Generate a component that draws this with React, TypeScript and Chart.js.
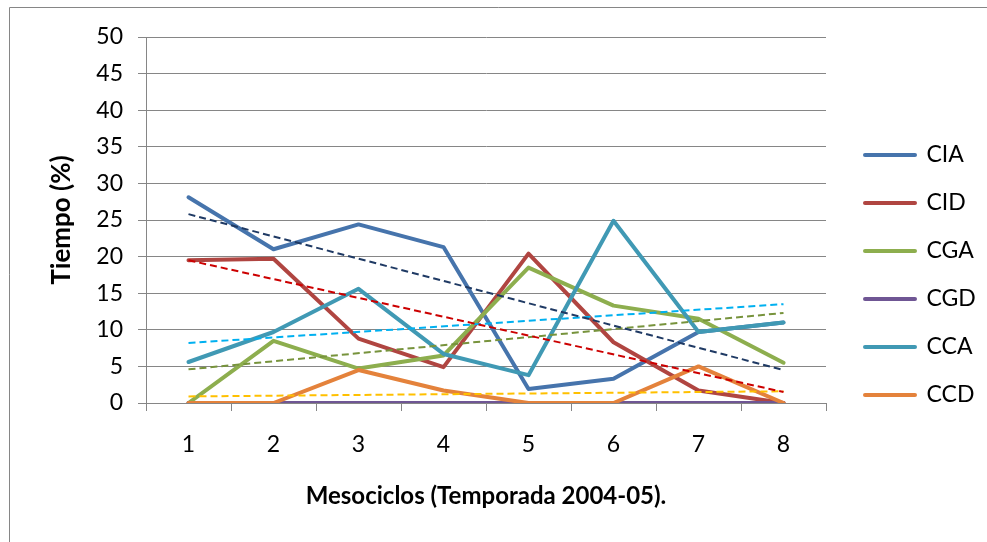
import React, { useEffect, useRef } from 'react';
import { Chart, registerables } from 'chart.js';

Chart.register(...registerables);

// ---- data ----
const categories = ['1', '2', '3', '4', '5', '6', '7', '8'];
const seriesNames = ['CIA', 'CID', 'CGA', 'CGD', 'CCA', 'CCD'];
const CIA = [28.1, 21.0, 24.4, 21.3, 1.9, 3.3, 9.7, 11.0];
const CID = [19.5, 19.7, 8.8, 4.9, 20.4, 8.3, 1.7, 0];
const CGA = [0, 8.5, 4.7, 6.5, 18.5, 13.3, 11.5, 5.5];
const CGD = [0, 0, 0, 0, 0, 0, 0, 0];
const CCA = [5.6, 9.7, 15.6, 6.7, 3.8, 24.9, 9.7, 11.0];
const CCD = [0, 0, 4.5, 1.7, 0, 0, 5.0, 0];

// linear trendlines (value at category 1 and at category 8)
const trendNames = ['CIA', 'CID', 'CGA', 'CCA', 'CCD'];
const trendStart = [25.8, 19.5, 4.6, 8.2, 0.9];
const trendEnd = [4.5, 1.5, 12.3, 13.5, 1.6];

const yMin = 0;
const yMax = 50;
const yStep = 5;

const xTitle = 'Mesociclos (Temporada 2004-05).';
const yTitle = 'Tiempo (%)';

// ---- styles ----
const seriesColors = ['#4674AC', '#B04541', '#8DAE4E', '#6F5694', '#4099B4', '#E4823B'];
const trendColors = ['#1F3A64', '#CC0000', '#77933C', '#00B0F0', '#FFC000'];
const axisGray = '#868686';
const legendFontSize = 23;
const legendPadding = 25;
const legendLineWidth = 50;

export default function App() {
  const ref = useRef<HTMLCanvasElement>(null);

  useEffect(() => {
    if (!ref.current) return;
    const series = [CIA, CID, CGA, CGD, CCA, CCD];
    const datasets: any[] = series.map((d, i) => ({
      label: seriesNames[i],
      data: d,
      yAxisID: 'y',
      borderColor: seriesColors[i],
      backgroundColor: seriesColors[i],
      borderWidth: 4,
      pointRadius: 0,
      tension: 0,
      borderCapStyle: 'round',
      borderJoinStyle: 'round',
      fill: false,
      order: 16 - i,
    }));
    trendNames.forEach((n, i) => {
      const data = categories.map((_, k) =>
        k === 0 ? trendStart[i] : k === categories.length - 1 ? trendEnd[i] : null
      );
      datasets.push({
        label: 'Lineal (' + n + ')',
        data,
        yAxisID: 'y',
        borderColor: trendColors[i],
        borderWidth: 2,
        borderDash: [7, 4],
        pointRadius: 0,
        spanGaps: true,
        fill: false,
        order: i,
      });
    });

    // measure legend text so the legend starts where the reference legend starts
    const mctx = document.createElement('canvas').getContext('2d')!;
    mctx.font = `${legendFontSize}px Lato`;
    const textW = Math.max(...seriesNames.map((s) => mctx.measureText(s).width));
    const legendW = legendPadding + legendLineWidth + legendFontSize / 2 + textW + 10;
    const legendLeft = 840;
    const rightPad = Math.max(0, 987 - legendLeft - legendW);

    const framePlugin = {
      id: 'frame',
      beforeDraw(chart: any) {
        const { ctx } = chart;
        ctx.save();
        ctx.fillStyle = '#ffffff';
        ctx.fillRect(0, 0, chart.width, chart.height);
        ctx.strokeStyle = axisGray;
        ctx.lineWidth = 1;
        ctx.beginPath();
        ctx.moveTo(9.5, chart.height);
        ctx.lineTo(9.5, 7.5);
        ctx.lineTo(chart.width, 7.5);
        ctx.stroke();
        ctx.restore();
      },
    };

    const chart = new Chart(ref.current, {
      type: 'line',
      data: { labels: categories, datasets },
      options: {
        responsive: true,
        maintainAspectRatio: false,
        animation: false,
        events: [],
        font: { family: 'Lato' },
        layout: { padding: { left: 0, top: 37, right: rightPad, bottom: 29 } },
        plugins: {
          tooltip: { enabled: false },
          legend: {
            position: 'right',
            align: 'center',
            labels: {
              font: { family: 'Lato', size: legendFontSize },
              color: '#000',
              padding: legendPadding,
              usePointStyle: true,
              pointStyle: 'line',
              pointStyleWidth: legendLineWidth,
              generateLabels: (c: any) =>
                c.data.datasets.slice(0, seriesNames.length).map((ds: any, i: number) => ({
                  text: ds.label,
                  strokeStyle: ds.borderColor,
                  fillStyle: ds.borderColor,
                  fontColor: '#000',
                  lineWidth: 4,
                  lineCap: 'round',
                  pointStyle: 'line',
                  hidden: false,
                  datasetIndex: i,
                })),
            },
          },
        },
        scales: {
          x: {
            type: 'category',
            offset: true,
            grid: { offset: true, drawOnChartArea: false, drawTicks: true, tickLength: 8, color: axisGray },
            border: { color: axisGray },
            ticks: { font: { family: 'Lato', size: 23 }, color: '#000', padding: 20, maxRotation: 0, autoSkip: false },
            title: {
              display: true,
              text: xTitle,
              font: { family: 'Lato', size: 24, weight: 'bold' },
              color: '#000',
              padding: { top: 4, bottom: 2 },
            },
            afterFit: (s: any) => { s.height = 110; },
          },
          y: {
            type: 'linear',
            min: yMin,
            max: yMax,
            ticks: { stepSize: yStep, font: { family: 'Lato', size: 23 }, color: '#000', padding: 15 },
            grid: { color: axisGray, tickLength: 8 },
            border: { color: axisGray },
            title: {
              display: true,
              text: yTitle,
              font: { family: 'Lato', size: 26, weight: 'bold' },
              color: '#000',
              padding: { top: 46, bottom: 0 },
            },
            afterFit: (s: any) => { s.width = 146; },
          },
          y2: {
            type: 'linear',
            position: 'right',
            display: true,
            grid: { display: false },
            border: { display: false },
            ticks: { display: false },
            afterFit: (s: any) => { s.width = 14; },
          },
        },
      } as any,
      plugins: [framePlugin],
    });
    return () => chart.destroy();
  }, []);

  return (
    <div style={{ position: 'absolute', left: 0, top: 0, width: 987, height: 542 }}>
      <canvas ref={ref} />
    </div>
  );
}
